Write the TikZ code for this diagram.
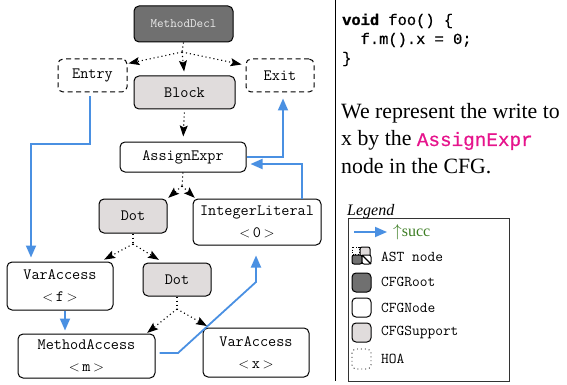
\documentclass[tikz,border=0pt]{standalone}
\usepackage{fontspec}
\usetikzlibrary{arrows.meta,calc}
\newfontfamily\serifT{Liberation Serif}
\newfontfamily\codeT[FakeBold=0.6]{Liberation Mono}
\newfontfamily\codeB[FakeBold=1.2]{Liberation Mono Bold}
\definecolor{succblue}{RGB}{74,144,226}
\definecolor{rootgray}{RGB}{112,112,112}
\definecolor{suppgray}{RGB}{224,220,220}
\definecolor{hlpink}{RGB}{230,20,140}
\definecolor{succgreen}{RGB}{60,125,35}
\newcommand{\lbl}[1]{$<$\thinspace#1\thinspace$>$}
\begin{document}
\begin{tikzpicture}[x=1pt,y=-1pt,
 box/.style={draw=black, line width=1pt, rounded corners=5pt, inner sep=0pt, align=center, font=\fontsize{15.8}{22}\selectfont\ttfamily},
 cfgroot/.style={box, fill=rootgray, text=white!92!black, font=\fontsize{12.8}{15}\selectfont\ttfamily},
 cfgsupp/.style={box, fill=suppgray},
 cfgnode/.style={box, fill=white},
 hoanode/.style={box, dash pattern=on 5pt off 3.5pt},
 hoaline/.style={line width=1.1pt, dash pattern=on 1.1pt off 2.9pt},
 hoa/.style={hoaline, -{Stealth[length=11pt,width=8pt,inset=2pt]}},
 succ/.style={draw=succblue, line width=1.8pt, -{Triangle[length=12pt,width=10pt]}},
 legtext/.style={anchor=west, inner sep=2pt, font=\fontsize{15}{18}\selectfont\ttfamily},
 sq/.style={draw=black, line width=1pt, rounded corners=4pt},
]
\useasboundingbox (0,0) rectangle (567,385);

% nodes
\node[cfgroot, minimum width=99pt, minimum height=36pt] (MD) at (183.5,24) {MethodDecl};
\node[hoanode, minimum width=69pt, minimum height=33pt] (EN) at (92.5,75.5) {Entry};
\node[cfgsupp, minimum width=101pt, minimum height=33pt] (BL) at (184.5,92.5) {Block};
\node[hoanode, minimum width=68pt, minimum height=33pt] (EX) at (280,75.5) {Exit};
\node[cfgnode, minimum width=126pt, minimum height=30pt] (AE) at (183,157) {AssignExpr};
\node[cfgsupp, minimum width=68pt, minimum height=34pt] (D1) at (133,216) {Dot};
\node[cfgnode, minimum width=128pt, minimum height=46pt] (IL) at (257,222) {IntegerLiteral\\\lbl{0}};
\node[cfgnode, minimum width=106pt, minimum height=48pt] (VF) at (60,286) {VarAccess\\\lbl{f}};
\node[cfgsupp, minimum width=68pt, minimum height=33pt] (D2) at (177,279.5) {Dot};
\node[cfgnode, minimum width=137pt, minimum height=44pt] (MA) at (86.5,356) {MethodAccess\\\lbl{m}};
\node[cfgnode, minimum width=106pt, minimum height=49pt] (VX) at (256,352.5) {VarAccess\\\lbl{x}};

% HOA edges
\coordinate (f1) at (182,52);
\draw[hoaline] (MD.south) -- (f1);
\draw[hoa, shorten >=1pt] (f1) -- ($(EN.north east)!0.15!(EN.south east)$);
\draw[hoa, shorten >=4pt] (f1) -- (BL.north);
\draw[hoa, shorten >=4pt] (f1) -- ($(EX.north west)!0.2!(EX.south west)$);
\draw[hoa, shorten <=3pt, shorten >=5pt] (BL.south) -- (AE.north);
\coordinate (f2) at (182,186);
\draw[hoaline] (AE.south) -- (f2);
\draw[hoa, shorten >=1pt] (f2) -- (D1.north east);
\draw[hoa, shorten >=1pt] (f2) -- ($(IL.north west)+(3,0)$);
\coordinate (f3) at (133,244);
\draw[hoaline] (D1.south) -- (f3);
\draw[hoa, shorten >=4pt] (f3) -- ($(VF.north west)!0.88!(VF.north east)$);
\draw[hoa, shorten >=5pt] (f3) -- ($(D2.north west)!0.3!(D2.north east)$);
\coordinate (f4) at (177,309);
\draw[hoaline] (D2.south) -- (f4);
\draw[hoa, shorten >=1pt] (f4) -- ($(MA.north west)!0.934!(MA.north east)$);
\draw[hoa, shorten >=3pt] (f4) -- ($(VX.north west)!0.066!(VX.north east)$);

% succ edges
\coordinate (c1) at (31,144);
\coordinate (c2) at (65,0);
\coordinate (m1) at (178,353);
\coordinate (m2) at (256,282);
\coordinate (c4) at (302,0);
\coordinate (c5) at (283,0);
\draw[succ, shorten <=4pt, shorten >=4pt] ([xshift=-2.5pt]EN.south) |- (c1) -- (VF.north -| c1);
\draw[succ, shorten >=3pt] (VF.south -| c2) -- (MA.north -| c2);
\draw[succ, shorten >=10pt] ([xshift=4pt,yshift=3pt]MA.east) -- (m1) -- (m2) -- (IL.south -| m2);
\draw[succ, shorten >=4pt] (IL.north -| c4) |- ([yshift=-7pt]AE.east);
\draw[succ, shorten >=6pt] (AE.east) -| (EX.south -| c5);

% separator
\draw[line width=1pt] (335,0) -- (335,381);

% code
\node[anchor=base west, inner sep=0pt, font=\fontsize{15.4}{19}\selectfont\codeT] (code1) at (342,25) {{\codeB void} foo() \{};
\node[anchor=base west, inner sep=0pt, font=\fontsize{15.4}{19}\selectfont\codeT] (code2) at (342,44) {\ \ f.m().x = 0;};
\node[anchor=base west, inner sep=0pt, font=\fontsize{15.4}{19}\selectfont\codeT] (code3) at (342,63) {\}};

% description
\node[anchor=base west, inner sep=0pt, font=\fontsize{21.8}{27}\selectfont\serifT] (t1) at (341,119) {We represent the write to};
\node[anchor=base west, inner sep=0pt, font=\fontsize{21.8}{27}\selectfont\serifT] (t2) at (341,146) {x by the {\fontsize{19.3}{22}\selectfont\codeT\color{hlpink}AssignExpr}};
\node[anchor=base west, inner sep=0pt, font=\fontsize{21.8}{27}\selectfont\serifT] (t3) at (341,173) {node in the CFG.};

% legend
\node[anchor=base west, inner sep=0pt, font=\fontsize{16}{18}\selectfont\serifT\itshape] (legtitle) at (347,215) {Legend};
\draw[draw=black!80, line width=1pt] (348,218) rectangle (509,381);
\coordinate (la1) at (354,232);
\coordinate (la2) at (387,232);
\draw[succ] (la1) -- (la2);
\node[anchor=west, inner sep=2pt, text=succgreen, font=\fontsize{16}{18}\selectfont\serifT] (lsucc) at (391,232) {$\uparrow$succ};
% AST node icon
\draw[line width=0.8pt, dash pattern=on 0.8pt off 1.8pt] (352,247) rectangle (359,254);
\draw[sq, rounded corners=2pt, fill=suppgray] (360,247) rectangle (370,257);
\draw[sq, rounded corners=2pt, fill=rootgray] (352,255) rectangle (362,264);
\draw[sq, rounded corners=2pt, fill=white] (362,255) rectangle (371,264);
\draw[line width=1.2pt] (362,255) -- (371,264);
\node[legtext] (last) at (379,257) {AST node};
\draw[sq, fill=rootgray] (352,273) rectangle (371,292);
\node[legtext] (lroot) at (379,282) {CFGRoot};
\draw[sq, fill=white] (352,298) rectangle (371,317);
\node[legtext] (lnode) at (379,308) {CFGNode};
\draw[sq, fill=suppgray] (352,323) rectangle (371,342);
\node[legtext] (lsupp) at (379,332) {CFGSupport};
\draw[line width=0.9pt, rounded corners=4pt, dash pattern=on 0.9pt off 3pt] (352,349) rectangle (371,369);
\node[legtext] (lhoa) at (379,359) {HOA};
\end{tikzpicture}
\end{document}
